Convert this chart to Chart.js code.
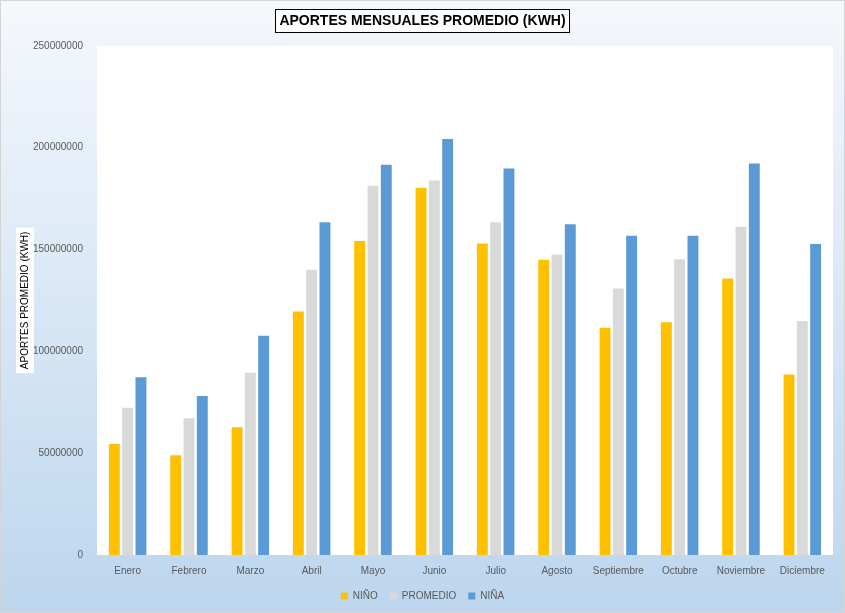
<!DOCTYPE html>
<html>
<head>
<meta charset="utf-8">
<script src="https://cdn.jsdelivr.net/npm/chart.js@4.4.1/dist/chart.umd.min.js"></script>
<style>
    html, body { margin: 0; padding: 0; background: #fff; }
    #wrap { width: 845px; height: 613px; position: relative; }
</style>
</head>
<body>
<div id="wrap"><canvas id="aportesChart" width="845" height="613"></canvas></div>
<script>
// Data (kWh)
const months = ["Enero", "Febrero", "Marzo", "Abril", "Mayo", "Junio", "Julio", "Agosto", "Septiembre", "Octubre", "Noviembre", "Diciembre"];
const ninoValues = [54500000, 49000000, 62700000, 119500000, 154200000, 180300000, 152900000, 144900000, 111600000, 114300000, 135700000, 88600000];
const promedioValues = [72300000, 67100000, 89500000, 140000000, 181300000, 183900000, 163400000, 147500000, 130800000, 145200000, 161200000, 114900000];
const ninaValues = [87300000, 78100000, 107600000, 163400000, 191600000, 204200000, 189700000, 162400000, 156800000, 156800000, 192200000, 152700000];
const yTicks = [0, 50000000, 100000000, 150000000, 200000000, 250000000];

const FONT = "'Liberation Sans', Arial, sans-serif";

// Background gradient, white plot area and boxes behind the titles
const backgroundPlugin = {
    id: "background",
    beforeDraw(chart) {
        const { ctx, width, height, chartArea } = chart;
        ctx.save();
        const grad = ctx.createLinearGradient(0, 0, 0, height);
        grad.addColorStop(0, "#f5f8fc");
        grad.addColorStop(1, "#bcd6ee");
        ctx.fillStyle = grad;
        ctx.fillRect(0, 0, width, height);
        ctx.strokeStyle = "#d4d4d4";
        ctx.lineWidth = 1;
        ctx.strokeRect(0.5, 0.5, width - 1, height - 1);

        ctx.fillStyle = "#ffffff";
        ctx.fillRect(chartArea.left, chartArea.top, chartArea.right - chartArea.left, chartArea.bottom - chartArea.top);

        // title box
        const t = chart.options.plugins.title;
        ctx.font = "bold " + t.font.size + "px " + FONT;
        const tw = ctx.measureText(t.text).width;
        const tb = chart.titleBlock;
        const cx = (tb.left + tb.right) / 2;
        const ty = tb.top + t.padding.top;
        const bh = t.font.size * 1.2 + 6;
        ctx.fillStyle = "#ffffff";
        ctx.fillRect(cx - tw / 2 - 4, ty - 4, tw + 8, bh);
        ctx.strokeStyle = "#000000";
        ctx.strokeRect(Math.round(cx - tw / 2 - 4) + 0.5, Math.round(ty - 4) + 0.5, Math.round(tw + 8), Math.round(bh));

        // y-axis title box
        const ys = chart.scales.y;
        const yt = ys.options.title;
        ctx.font = yt.font.size + "px " + FONT;
        const yw = ctx.measureText(yt.text).width;
        const yx = ys.left + yt.padding.top + yt.font.size * 1.2 / 2;
        const ymid = (ys.top + ys.bottom) / 2;
        ctx.fillStyle = "#ffffff";
        ctx.fillRect(yx - 9, ymid - yw / 2 - 4, 18, yw + 8);
        ctx.restore();
    }
};

const ctx = document.getElementById("aportesChart").getContext("2d");

const aportesChart = new Chart(ctx, {
    type: "bar",
    data: {
        labels: months,
        datasets: [
            { label: "NIÑO", data: ninoValues, backgroundColor: "#ffc000" },
            { label: "PROMEDIO", data: promedioValues, backgroundColor: "#d9d9d9" },
            { label: "NIÑA", data: ninaValues, backgroundColor: "#5b9bd5" }
        ]
    },
    options: {
        responsive: false,
        animation: false,
        devicePixelRatio: 1,
        layout: {
            padding: { left: 12, right: 12, top: 0, bottom: 2 }
        },
        datasets: {
            bar: {
                barPercentage: 0.82,
                categoryPercentage: 0.65,
                borderWidth: 0
            }
        },
        scales: {
            x: {
                afterFit(scale) { scale.height = scale.height - 8; },
                grid: { display: false, drawTicks: false },
                border: { display: false },
                ticks: {
                    color: "#595959",
                    font: { family: FONT, size: 10 },
                    padding: 10,
                    maxRotation: 0,
                    autoSkip: false
                }
            },
            y: {
                min: 0,
                max: 250000000,
                afterFit(scale) { scale.width = 85; },
                afterBuildTicks(scale) { scale.ticks = yTicks.map(v => ({ value: v })); },
                grid: { display: false, drawTicks: false },
                border: { display: false },
                ticks: {
                    color: "#595959",
                    font: { family: FONT, size: 10 },
                    padding: 14,
                    callback: v => String(v)
                },
                title: {
                    display: true,
                    text: "APORTES PROMEDIO (KWH)",
                    color: "#000000",
                    font: { family: FONT, size: 10 },
                    padding: { top: 7, bottom: 0 }
                }
            }
        },
        plugins: {
            title: {
                display: true,
                text: "APORTES MENSUALES PROMEDIO (KWH)",
                color: "#000000",
                font: { family: FONT, size: 14, weight: "bold" },
                padding: { top: 13, bottom: 16 }
            },
            legend: {
                position: "bottom",
                labels: {
                    color: "#595959",
                    font: { family: FONT, size: 10 },
                    boxWidth: 7,
                    boxHeight: 7,
                    padding: 12
                }
            },
            tooltip: { enabled: false }
        }
    },
    plugins: [backgroundPlugin]
});
</script>
</body>
</html>
